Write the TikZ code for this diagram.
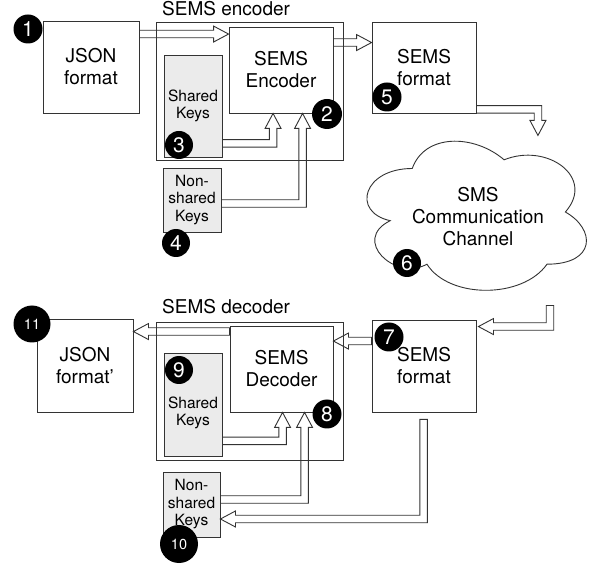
\documentclass[tikz,border=0pt]{standalone}
\usepackage{fontspec}
\setmainfont{TeX Gyre Heros}
\usetikzlibrary{calc}
\definecolor{ln}{RGB}{51,51,51}
\definecolor{keyfill}{RGB}{235,235,235}
\newcommand\mainfs{\fontsize{19}{22}\selectfont}
\newcommand\smallfs{\fontsize{15.5}{17.5}\selectfont}
\tikzset{
  box/.style={draw=ln, line width=0.9pt, fill=white, inner sep=0pt, align=center, font=\mainfs},
  keybox/.style={box, fill=keyfill, font=\smallfs},
  frame/.style={draw=ln, line width=0.9pt, inner sep=0pt},
  arr/.style={draw=ln, line width=0.9pt, line join=miter},
  badge/.style={circle, fill=black, text=white, inner sep=0pt, font=\fontsize{21}{21}\selectfont},
  badgetwo/.style={badge, font=\fontsize{14.5}{14.5}\selectfont},
  lbl/.style={inner sep=0pt, font=\mainfs, anchor=base west}
}
% straight horizontal flex arrow: tail, tip, direction (1 right, -1 left)
\newcommand\flexS[3]{%
  \draw[arr] let \p1=(#1), \p2=(#2) in
   (\x1,{\y1+3.75pt}) -- ({\x2-(#3)*15pt},{\y1+3.75pt}) -- ({\x2-(#3)*15pt},{\y1+8pt})
   -- (\x2,\y1) -- ({\x2-(#3)*15pt},{\y1-8pt}) -- ({\x2-(#3)*15pt},{\y1-3.75pt})
   -- (\x1,{\y1-3.75pt}) -- cycle;}
% horizontal then vertical: tail, tip, dx, dy (canvas signs)
\newcommand\flexHV[4]{%
  \draw[arr] let \p1=(#1), \p2=(#2) in
   (\x1,{\y1-(#4)*3.75pt}) -- ({\x2+(#3)*3.75pt},{\y1-(#4)*3.75pt})
   -- ({\x2+(#3)*3.75pt},{\y2-(#4)*15pt}) -- ({\x2+(#3)*8pt},{\y2-(#4)*15pt})
   -- (\x2,\y2) -- ({\x2-(#3)*8pt},{\y2-(#4)*15pt}) -- ({\x2-(#3)*3.75pt},{\y2-(#4)*15pt})
   -- ({\x2-(#3)*3.75pt},{\y1+(#4)*3.75pt}) -- (\x1,{\y1+(#4)*3.75pt}) -- cycle;}
% vertical then horizontal: tail, tip, dx, dy (canvas signs)
\newcommand\flexVH[4]{%
  \draw[arr] let \p1=(#1), \p2=(#2) in
   ({\x1-(#3)*3.75pt},\y1) -- ({\x1-(#3)*3.75pt},{\y2+(#4)*3.75pt})
   -- ({\x2-(#3)*15pt},{\y2+(#4)*3.75pt}) -- ({\x2-(#3)*15pt},{\y2+(#4)*8pt})
   -- (\x2,\y2) -- ({\x2-(#3)*15pt},{\y2-(#4)*8pt}) -- ({\x2-(#3)*15pt},{\y2-(#4)*3.75pt})
   -- ({\x1+(#3)*3.75pt},{\y2-(#4)*3.75pt}) -- ({\x1+(#3)*3.75pt},\y1) -- cycle;}
\begin{document}
\begin{tikzpicture}[x=1pt,y=-1pt]
\useasboundingbox[fill=white] (0,0) rectangle (590,564);

% ---------- encoder side ----------
\node[frame, minimum width=187pt, minimum height=138pt] (encbox) at (249.5,91) {};
\node[lbl] (enclbl) at (162,16) {SEMS encoder};
\node[box, minimum width=96pt, minimum height=92pt] (json) at (91,67) {JSON\\format};
\node[box, minimum width=104pt, minimum height=86pt] (enc) at (281,70) {SEMS\\Encoder};
\node[keybox, minimum width=58pt, minimum height=102pt] (skenc) at (193,106) {Shared\\Keys};
\node[keybox, minimum width=58pt, minimum height=64pt] (nsenc) at (192,200) {Non-\\shared\\Keys};
\node[box, minimum width=104pt, minimum height=91pt] (fmtenc) at (424,67.5) {SEMS\\format};

% ---------- cloud ----------
\begin{scope}[shift={(351,125)}, x=245pt, y=-174pt]
  \draw[ln, line width=0.9pt, fill=white]
    (0.25,0.25) .. controls (0.05,0.25) and (0,0.5) .. (0.16,0.55)
    .. controls (0,0.66) and (0.18,0.9) .. (0.31,0.8)
    .. controls (0.4,1) and (0.7,1) .. (0.8,0.8)
    .. controls (1,0.8) and (1,0.6) .. (0.875,0.5)
    .. controls (1,0.3) and (0.8,0.1) .. (0.625,0.2)
    .. controls (0.5,0.05) and (0.3,0.05) .. (0.25,0.25) -- cycle;
\end{scope}
\node[inner sep=0pt, align=center, font=\mainfs] (cloud) at (478,217) {SMS\\Communication\\Channel};

% ---------- decoder side ----------
\node[frame, minimum width=187pt, minimum height=138pt] (decbox) at (249.5,391) {};
\node[lbl] (declbl) at (162,314) {SEMS decoder};
\node[box, minimum width=96pt, minimum height=93pt] (jsondec) at (85,365.5) {JSON\\format’};
\node[box, minimum width=103pt, minimum height=86pt] (dec) at (281.5,369) {SEMS\\Decoder};
\node[keybox, minimum width=58pt, minimum height=103pt] (skdec) at (193,404.5) {};
\node[inner sep=0pt, align=center, font=\smallfs] (skdectxt) at (193,413) {Shared\\Keys};
\node[keybox, minimum width=57pt, minimum height=65pt] (nsdec) at (191.5,504.5) {Non-\\shared\\Keys};
\node[box, minimum width=104pt, minimum height=92pt] (fmtdec) at (424,366) {SEMS\\format};

% ---------- arrow end points ----------
\coordinate (a1t) at ($(json.north east)+(0,13.5)$);
\coordinate (a1p) at (enc.west |- a1t);
\coordinate (a2t) at ($(skenc.south east)+(0,-14)$);
\coordinate (a2p) at ($(enc.south west)+(44.5,0)$);
\coordinate (a3t) at ($(nsenc.east)+(0,3.5)$);
\coordinate (a3p) at ($(enc.south west)+(74,0)$);
\coordinate (a4t) at ($(enc.north east)+(0,16)$);
\coordinate (a4p) at (fmtenc.west |- a4t);
\coordinate (a5t) at ($(fmtenc.south east)+(0,-4)$);
\coordinate (a5p) at ($(fmtenc.south east)+(61.5,22)$);
\coordinate (a6t) at ($(fmtdec.north east)+(73.5,-14)$);
\coordinate (a6p) at ($(fmtdec.north east)+(2,7)$);
\coordinate (a7t) at ($(fmtdec.north west)+(0,21.5)$);
\coordinate (a7p) at (dec.east |- a7t);
\coordinate (a8t) at ($(dec.north west)+(0,6)$);
\coordinate (a8p) at (jsondec.east |- a8t);
\coordinate (a9t) at ($(skdec.south east)+(0,-15.5)$);
\coordinate (a9p) at ($(dec.south west)+(53,0)$);
\coordinate (a10t) at ($(nsdec.east)+(0,-5)$);
\coordinate (a10p) at ($(dec.south west)+(75,0)$);
\coordinate (a11t) at ($(fmtdec.south west)+(52,7)$);
\coordinate (a11p) at ($(nsdec.east)+(0,14.5)$);

% ---------- arrows ----------
\flexS{a1t}{a1p}{1}
\flexHV{a2t}{a2p}{1}{1}
\flexHV{a3t}{a3p}{1}{1}
\flexS{a4t}{a4p}{1}
\flexHV{a5t}{a5p}{1}{-1}
\flexVH{a6t}{a6p}{-1}{-1}
\flexS{a7t}{a7p}{-1}
\flexS{a8t}{a8p}{-1}
\flexHV{a9t}{a9p}{1}{1}
\flexHV{a10t}{a10p}{1}{1}
\flexVH{a11t}{a11p}{-1}{-1}

% ---------- badges ----------
\node[badge, minimum size=29pt] (b1) at (28,29) {1};
\node[badge, minimum size=30pt] (b2) at (327,114) {2};
\node[badge, minimum size=28pt] (b3) at (179,145) {3};
\node[badge, minimum size=28pt] (b4) at (176,243) {4};
\node[badge, minimum size=29pt] (b5) at (387,97) {5};
\node[badge, minimum size=28pt] (b6) at (407,263) {6};
\node[badge, minimum size=29pt] (b7) at (389,337) {7};
\node[badge, minimum size=29pt] (b8) at (327,414) {8};
\node[badge, minimum size=28pt] (b9) at (179,370) {9};
\node[badgetwo, minimum size=38pt] (b10) at (179,544) {10};
\node[badgetwo, minimum size=37pt] (b11) at (32,324) {11};
\end{tikzpicture}
\end{document}
